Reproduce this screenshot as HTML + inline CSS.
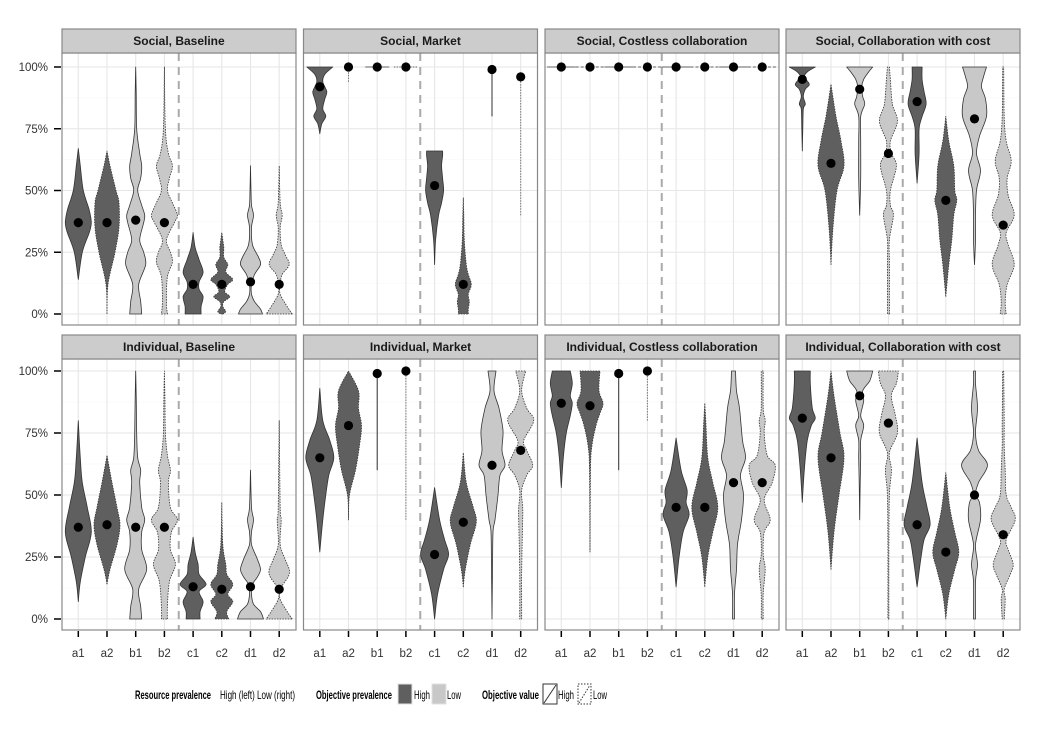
<!DOCTYPE html>
<html><head><meta charset="utf-8"><style>
html,body{margin:0;padding:0;background:#fff;}
svg{display:block;font-family:"Liberation Sans",Arial,sans-serif;}
</style></head><body>
<svg id="s" width="1050" height="750" xmlns="http://www.w3.org/2000/svg">
<text x="135" y="699" font-size="12" font-weight="bold" textLength="76" lengthAdjust="spacingAndGlyphs">Resource prevalence</text>
<text x="220" y="699" font-size="12" textLength="75" lengthAdjust="spacingAndGlyphs">High (left)  Low (right)</text>
<text x="316" y="699" font-size="12" font-weight="bold" textLength="76" lengthAdjust="spacingAndGlyphs">Objective prevalence</text>
<rect x="398" y="684" width="14" height="20" fill="#5f5f5f" stroke="#e0e0e0"/>
<text x="414" y="699" font-size="12" textLength="16" lengthAdjust="spacingAndGlyphs">High</text>
<rect x="432" y="684" width="14" height="20" fill="#c8c8c8" stroke="#e0e0e0"/>
<text x="447" y="699" font-size="12" textLength="14" lengthAdjust="spacingAndGlyphs">Low</text>
<text x="482" y="699" font-size="12" font-weight="bold" textLength="57" lengthAdjust="spacingAndGlyphs">Objective value</text>
<rect x="543" y="684" width="14" height="20" fill="#fff" stroke="#333" stroke-width="1"/>
<line x1="544" y1="703" x2="556" y2="685" stroke="#333"/>
<text x="558" y="699" font-size="12" textLength="16" lengthAdjust="spacingAndGlyphs">High</text>
<rect x="578" y="684" width="13" height="20" fill="#fff" stroke="#333" stroke-dasharray="1.5,1.5"/>
<line x1="579" y1="703" x2="590" y2="685" stroke="#333" stroke-dasharray="1.5,1.5"/>
<text x="593" y="699" font-size="12" textLength="14" lengthAdjust="spacingAndGlyphs">Low</text>
</svg>
<script>
const NS="http://www.w3.org/2000/svg";const S=document.getElementById('s');
function el(t,a,p){const e=document.createElementNS(NS,t);for(const k in a)e.setAttribute(k,a[k]);(p||S).appendChild(e);return e;}
const PX=[62,303.5,545,786],PW=234;
const rows=[{st:29,top:53,bot:325,y100:67,y0:314},{st:335,top:359,bot:630,y100:371,y0:619}];
const titles=[["Social, Baseline","Social, Market","Social, Costless collaboration","Social, Collaboration with cost"],
["Individual, Baseline","Individual, Market","Individual, Costless collaboration","Individual, Collaboration with cost"]];
const cats=["a1","a2","b1","b2","c1","c2","d1","d2"];
const V=[[
"D S 37|14,0 25,4 33,11 37,13 42,11 50,5 60,2 67,0",
"D O 37|0,0 12,1 25,8 35,12 45,12 50,9 60,3 66,0",
"L S 38|0,6 5,5 12,3 20,10 25,8 30,4 37,8 40,9 44,6 50,2 55,5 60,6 65,4 75,1 90,0.5 100,0",
"L O 37|0,3 5,2 15,3 21,8 25,6 30,2 37,10 40,13 45,8 50,3 55,5 60,8 65,4 75,1 100,0",
"D S 12|0,8 3,8 7,10 10,6 13,6 17,10 22,6 27,2 33,0",
"D O 12|0,1 1,4 3,1 5,2 7,8 9,3 12,6 14,11 17,4 20,6 23,2 27,2 30,1 33,0",
"L S 13|0,12 2,10 5,4 8,1 12,1 16,4 20,10 23,8 28,2 35,1 40,3 44,1 50,0.5 60,0",
"L O 12|0,13 3,8 8,1 12,1 16,3 20,10 24,6 28,2 35,1 40,3 45,1 60,0"],[
"D S 92|73,0 77,2 80,6 83,3 87,5 90,7 94,3 97,5 100,13",
"X O 100|94,100",
"H S 100|100",
"H O 100|100",
"D S 52|20,0 30,1 40,4 45,7 50,9 55,8 60,7 64,8 66,8",
"D O 12|0,5 2,5 5,6 8,5 12,8 16,5 20,3 30,1 40,0.5 47,0",
"X S 99|80,100",
"X O 96|40,96"],[
"H S 100|100","H O 100|100","H S 100|100","H O 100|100","H S 100|100","H O 100|100","H S 100|100","H O 100|100"],[
"D S 95|66,0 75,0.5 83,1 85,3 88,1 91,3 93,7 96,2 98,5 100,13",
"D O 61|20,0 35,2 50,6 60,13 70,10 80,5 93,0",
"L S 91|40,0 55,1 70,1 80,1 85,5 88,3 92,2 95,4 98,9 100,13",
"L O 65|0,1 20,1 30,1 40,5 44,2 50,2 60,8 65,3 70,2 78,9 85,4 95,2 100,1",
"D S 86|53,0 65,2 75,2 80,5 85,9 90,7 95,5 100,5",
"D O 46|7,0 20,3 30,6 40,8 46,11 50,9 60,8 70,3 80,0",
"L S 79|20,0 30,1 40,1 50,2 58,6 65,2 72,5 80,12 87,11 92,7 96,9 100,12",
"L O 36|0,3 5,2 12,4 20,11 28,5 33,3 40,11 48,5 55,4 62,8 70,3 80,1 100,0.5"],[
"D S 37|7,0 15,2 25,7 35,13 45,9 55,4 65,2 80,0",
"D O 38|14,0 20,3 30,10 38,13 45,10 55,5 66,0",
"L S 37|0,6 5,5 12,3 20,11 28,6 35,6 40,9 45,6 55,4 60,5 65,2 75,1 90,0.5 100,0",
"L O 37|0,3 5,3 15,5 22,11 28,6 35,7 40,13 45,6 55,4 60,6 66,3 75,1 90,0.5 100,0",
"D S 13|0,7 3,7 7,10 11,6 14,13 18,6 22,5 27,2 33,0",
"D O 12|0,7 3,5 7,11 10,6 14,11 18,5 22,4 30,1 47,0",
"L S 13|0,13 3,10 6,3 10,1 14,2 17,7 20,10 24,7 30,1 35,1 40,3 45,1 60,0",
"L O 12|0,13 3,8 8,1 12,1 17,9 20,10 24,6 30,1 40,2 45,1 80,0"],[
"D S 65|27,0 40,3 50,6 58,9 65,14 72,10 80,3 93,0",
"D O 78|40,0 50,1 60,7 70,11 78,13 85,10 92,10 100,0",
"X S 99|60,99",
"X O 100|40,100",
"D S 26|0,0 10,3 20,9 26,14 32,10 40,5 53,0",
"D O 39|13,0 20,2 30,7 39,13 45,10 55,3 67,0",
"L S 62|0,0 20,0.5 35,1 40,3 50,6 58,8 62,13 68,10 76,11 85,7 92,2 100,4",
"L O 68|0,1 20,1 40,2 45,2 52,1 58,6 62,12 68,6 72,3 80,13 85,6 92,1 100,5"],[
"D S 87|53,0 65,2 75,5 82,9 87,11 90,9 95,11 100,9",
"D O 86|27,0 60,0.5 70,2 78,6 83,10 87,13 92,9 100,10",
"X S 99|60,99",
"X O 100|80,100",
"D S 45|13,0 25,3 35,7 42,13 47,10 52,11 60,5 73,0",
"D O 45|13,0 25,3 35,8 45,13 55,8 65,3 80,1 87,0",
"L S 55|0,1 10,1 20,3 30,4 40,8 50,10 58,7 65,12 72,9 85,6 92,3 100,2",
"L O 55|0,1 10,1 20,3 26,1 35,2 40,8 48,2 55,10 62,13 66,5 75,2 80,3 85,1 100,1"],[
"D S 81|47,0 60,2 72,5 78,9 81,13 85,10 95,8 100,8",
"D O 65|20,0 35,3 50,8 65,13 75,9 90,3 100,0",
"L S 90|40,0 55,0.5 65,1 72,1 78,4 82,1 88,4 92,3 96,10 100,13",
"L O 79|0,0.5 30,0.5 50,1 60,3 67,1 75,9 82,7 90,3 95,8 100,10",
"D S 38|13,0 25,4 32,7 38,13 45,10 55,5 73,0",
"D O 27|0,0 10,3 20,9 27,13 35,9 45,4 59,0",
"L S 50|0,1 15,1 22,3 30,1 40,6 47,5 50,1 55,4 62,13 68,4 75,1 85,3 95,1 100,1",
"L O 34|0,1 8,2 12,1 18,7 22,10 28,5 32,3 40,12 45,8 50,3 60,2 70,1 80,1 100,0.5"]];
function cr(pts){let d="";for(let i=0;i<pts.length-1;i++){const p0=pts[Math.max(0,i-1)],p1=pts[i],p2=pts[i+1],p3=pts[Math.min(pts.length-1,i+2)];
const c1=[p1[0]+(p2[0]-p0[0])/6,p1[1]+(p2[1]-p0[1])/6],c2=[p2[0]-(p3[0]-p1[0])/6,p2[1]-(p3[1]-p1[1])/6];
d+=` C${c1[0].toFixed(1)},${c1[1].toFixed(1)} ${c2[0].toFixed(1)},${c2[1].toFixed(1)} ${p2[0].toFixed(1)},${p2[1].toFixed(1)}`;}return d;}
for(let r=0;r<2;r++){const R=rows[r];const Y=p=>R.y0-(R.y0-R.y100)*p/100;
for(let c=0;c<4;c++){const x0=PX[c];const g=el('g',{});
el('rect',{x:x0,y:R.top,width:PW,height:R.bot-R.top,fill:'#fff'},g);
for(let k=0;k<4;k++)el('line',{x1:x0,x2:x0+PW,y1:Y(12.5+25*k),y2:Y(12.5+25*k),stroke:'#f5f5f5','stroke-width':0.6},g);
for(let k=0;k<5;k++)el('line',{x1:x0,x2:x0+PW,y1:Y(25*k),y2:Y(25*k),stroke:'#e6e6e6','stroke-width':1.1},g);
const CX=i=>x0+16.3+i*28.7;
for(let i=0;i<8;i++)el('line',{x1:CX(i),x2:CX(i),y1:R.top,y2:R.bot,stroke:'#e6e6e6','stroke-width':1.1},g);
el('line',{x1:(CX(3)+CX(4))/2,x2:(CX(3)+CX(4))/2,y1:R.top,y2:R.bot,stroke:'#aaa','stroke-width':2,'stroke-dasharray':'8,6'},g);
const list=V[r*4+c];const dots=[];
list.forEach((s,i)=>{const [h,t]=s.split('|');const [typ,st,m]=h.split(' ');const cx=CX(i);
const dash=st==='O'?{'stroke-dasharray':'1.5,1.2'}:{};
if(typ==='H'){dots.push([cx,Y(+m)]);
 if(c===2){el('line',Object.assign({x1:cx-14.3,x2:cx+14.3,y1:Y(100),y2:Y(100),stroke:'#333','stroke-width':0.8},st==='O'?{'stroke-dasharray':'3,2'}:{}),g);}
 else el('line',Object.assign({x1:cx-12,x2:cx+12,y1:Y(100),y2:Y(100),stroke:'#333','stroke-width':0.8},dash),g);return;}
if(typ==='X'){const [a,b]=t.split(',').map(Number);el('line',Object.assign({x1:cx,x2:cx,y1:Y(a),y2:Y(b),stroke:st==='O'?'#777':'#333','stroke-width':1},dash),g);dots.push([cx,Y(+m)]);return;}
const pts=t.trim().split(/\s+/).map(q=>q.split(',').map(Number));
const right=pts.map(p=>[cx+p[1],Y(p[0])]);const left=pts.slice().reverse().map(p=>[cx-p[1],Y(p[0])]);
let d=`M${right[0][0].toFixed(1)},${right[0][1].toFixed(1)}`+cr(right)+` L${left[0][0].toFixed(1)},${left[0][1].toFixed(1)}`+cr(left)+' Z';
el('path',Object.assign({d,fill:typ==='D'?'#5f5f5f':'#c8c8c8',stroke:'#333','stroke-width':0.8,'stroke-linejoin':'round'},dash),g);
dots.push([cx,Y(+m)]);});
dots.forEach(p=>el('circle',{cx:p[0],cy:p[1],r:4.6,fill:'#000'},g));
el('rect',{x:x0,y:R.top,width:PW,height:R.bot-R.top,fill:'none',stroke:'#888','stroke-width':1.2},g);
el('rect',{x:x0,y:R.st,width:PW,height:R.top-R.st,fill:'#cccccc',stroke:'#888','stroke-width':1.2},g);
const tt=el('text',{x:x0+PW/2,y:R.st+16,'font-size':12,'font-weight':'bold','text-anchor':'middle',fill:'#1a1a1a'},g);tt.textContent=titles[r][c];
if(r===1){for(let i=0;i<8;i++){el('line',{x1:CX(i),x2:CX(i),y1:631,y2:637,stroke:'#000','stroke-width':1.5},g);
 const tx=el('text',{x:CX(i),y:657,'font-size':11.5,'text-anchor':'middle',fill:'#333'},g);tx.textContent=cats[i];}}
if(c===0){["0%","25%","50%","75%","100%"].forEach((l,k)=>{el('line',{x1:54,x2:61,y1:Y(25*k),y2:Y(25*k),stroke:'#000','stroke-width':1.5},g);
 const tx=el('text',{x:48,y:Y(25*k)+4,'font-size':11.5,'text-anchor':'end',fill:'#333'},g);tx.textContent=l;});}
}}
</script>
</body></html>
